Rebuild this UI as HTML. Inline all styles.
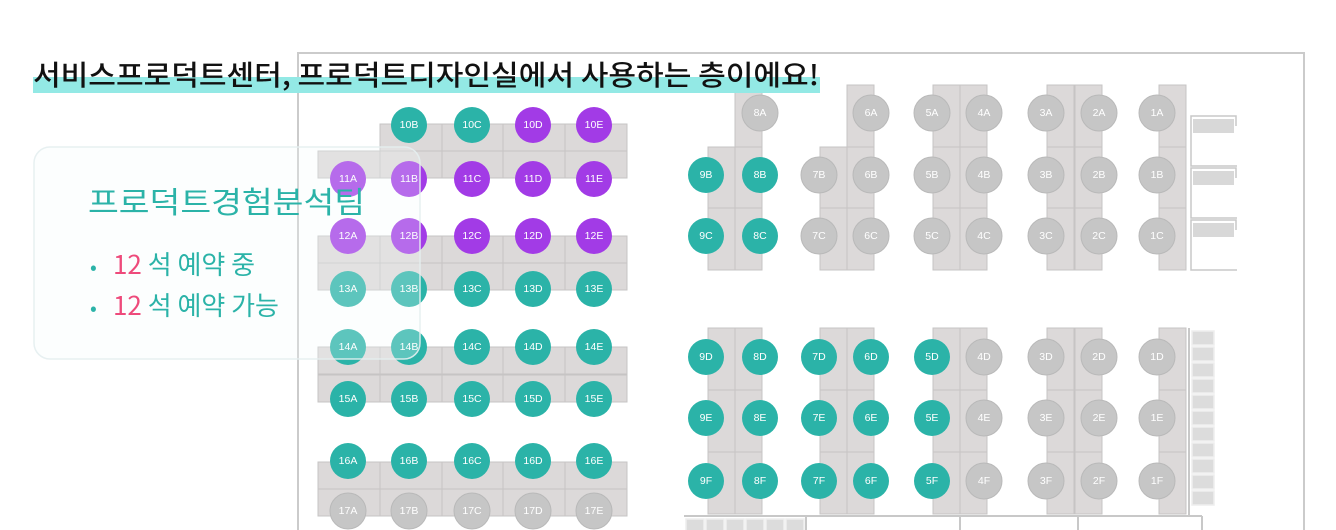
<!DOCTYPE html>
<html><head><meta charset="utf-8">
<style>
html,body{margin:0;padding:0;background:#fff;}
body{width:1336px;height:530px;overflow:hidden;font-family:"Liberation Sans","Noto Sans CJK KR",sans-serif;}
svg{display:block}
.lbl{font-family:"Liberation Sans",sans-serif;font-size:10.5px;fill:#fff;text-anchor:middle;dominant-baseline:central}
.k{font-family:"Noto Sans CJK KR","Liberation Sans",sans-serif}
</style></head>
<body>
<svg id="map" width="1336" height="530" viewBox="0 0 1336 530">
  <rect x="298" y="53" width="1006" height="490" fill="none" stroke="#cbcbcb" stroke-width="2"/>
  <g id="desks"></g>
  <g id="furniture"></g>
  <g id="seats"></g>
  <rect x="34" y="147" width="386" height="212" rx="16" fill="rgba(244,251,252,0.25)" stroke="rgba(228,238,240,0.9)" stroke-width="1.5"/>
  <rect x="33" y="77" width="787" height="16" fill="#93e9e5"/>
  <text class="k" x="33" y="85" font-size="28" font-weight="500" fill="#111" textLength="786" lengthAdjust="spacingAndGlyphs">서비스프로덕트센터, 프로덕트디자인실에서 사용하는 층이에요!</text>
  <text class="k" x="88" y="213" font-size="30" fill="#2bb3a8" textLength="277" lengthAdjust="spacingAndGlyphs">프로덕트경험분석팀</text>
  <g>
    <text class="k" x="90" y="274" font-size="20" fill="#2bb3a8">•</text>
    <text class="k" x="113" y="274" font-size="26" fill="#2bb3a8"><tspan fill="#ee4a7b">12</tspan> 석 예약 중</text>
  </g>
  <g>
    <text class="k" x="90" y="315" font-size="20" fill="#2bb3a8">•</text>
    <text class="k" x="113" y="315" font-size="26" fill="#2bb3a8"><tspan fill="#ee4a7b">12</tspan> 석 예약 가능</text>
  </g>
</svg>
<script>
// seat data: id, state (r = reserved teal, p = purple/selected, g = unavailable gray)
const leftRows = ["10","11","12","13","14","15","16","17"];
const leftCols = ["A","B","C","D","E"];
const leftStates = [
  "-rrpp",
  "ppppp",
  "ppppp",
  "rrrrr",
  "rrrrr",
  "rrrrr",
  "rrrrr",
  "ggggg"
];
const rightCols = ["9","8","7","6","5","4","3","2","1"];
const rightRows = ["A","B","C","D","E","F"];
const rightStates = [
  "-g-gggggg",
  "rrggggggg",
  "rrggggggg",
  "rrrrrgggg",
  "rrrrrgggg",
  "rrrrrgggg"
];
const colors = {r:"#2bb3a8", p:"#a23be6", g:"#c6c6c6"};
const NS = "http://www.w3.org/2000/svg";
const leftX = [348,409,472,533,594];
const leftY = [125,179,236,289,347,399,461,511];
const rightX = [706,760,819,871,932,984,1046,1099,1157];
const rightY = [113,175,236,357,418,481];

const desks = document.getElementById('desks');
function desk(x,y,w,h){
  const r=document.createElementNS(NS,'rect');
  r.setAttribute('x',x);r.setAttribute('y',y);r.setAttribute('width',w);r.setAttribute('height',h);
  r.setAttribute('fill','#dcd9d9');r.setAttribute('stroke','#c6c4c4');r.setAttribute('stroke-width','1');
  
  
  desks.appendChild(r);
}
const dx=[318,380,442,503,565];
for(let c=1;c<5;c++) desk(dx[c],124,62,27);
for(let c=0;c<5;c++) desk(dx[c],151,62,27);
[[236,263],[347,375],[462,489]].forEach(g=>{for(let c=0;c<5;c++){desk(dx[c],g[0],62,27);desk(dx[c],g[1],62,27);}});
const pairs=[[708,[147,208]],[735,[85,147,208]],[820,[147,208]],[847,[85,147,208]],[933,[85,147,208]],[960,[85,147,208]],[1047,[85,147,208]],[1075,[85,147,208]],[1159,[85,147,208]]];
pairs.forEach(p=>p[1].forEach(y=>desk(p[0],y,27,62)));
pairs.forEach(p=>[328,390,452].forEach(y=>desk(p[0],y,27,62)));

const fur=document.getElementById('furniture');
function frect(x,y,w,h,fill,stroke){
  const r=document.createElementNS(NS,'rect');
  r.setAttribute('x',x);r.setAttribute('y',y);r.setAttribute('width',w);r.setAttribute('height',h);
  r.setAttribute('fill',fill);r.setAttribute('stroke',stroke);r.setAttribute('stroke-width','1.5');
  
  
  fur.appendChild(r);
}
[116,168,220].forEach(y=>{
  const p=document.createElementNS(NS,'path');
  p.setAttribute('d',`M1237 ${y+50} H1191 V${y} H1236 V${y+10}`);
  p.setAttribute('fill','none');p.setAttribute('stroke','#c8c8c8');p.setAttribute('stroke-width','1.5');
  
  
  fur.appendChild(p);
  frect(1193,y+3,41,14,'#d8d8d8','none');
});
for(let i=0;i<11;i++) frect(1192,331+i*16,22,14,'#dcdcdc','#eee');
const wl=document.createElementNS(NS,'path');
wl.setAttribute('d','M684 516 H1202 M1189 328 V516 M806 516 V530 M960 516 V530 M1078 516 V530 M1202 516 V530');
wl.setAttribute('stroke','#c8c8c8');wl.setAttribute('stroke-width','2');wl.setAttribute('fill','none');


fur.appendChild(wl);
for(let i=0;i<6;i++) frect(686+i*20,519,18,12,'#dcdcdc','#eee');

const seats=document.getElementById('seats');
function seat(x,y,id,st){
  const g=document.createElementNS(NS,'g');
  
  
  const c=document.createElementNS(NS,'circle');
  c.setAttribute('cx',x);c.setAttribute('cy',y);c.setAttribute('r',18);
  c.setAttribute('fill',colors[st]);
  if(st==='g'){c.setAttribute('stroke','#b9b9b9');c.setAttribute('stroke-width','1');}
  const t=document.createElementNS(NS,'text');
  t.setAttribute('x',x);t.setAttribute('y',y);t.setAttribute('class','lbl');
  if(st==='g') t.setAttribute('fill','#f4f4f4');
  t.textContent=id;
  g.appendChild(c);g.appendChild(t);seats.appendChild(g);
}
leftRows.forEach((r,i)=>leftCols.forEach((c,j)=>{
  const st=leftStates[i][j]; if(st==='-')return;
  seat(leftX[j],leftY[i],r+c,st);
}));
rightRows.forEach((r,i)=>rightCols.forEach((c,j)=>{
  const st=rightStates[i][j]; if(st==='-')return;
  seat(rightX[j],rightY[i],c+r,st);
}));
</script>
</body></html>
